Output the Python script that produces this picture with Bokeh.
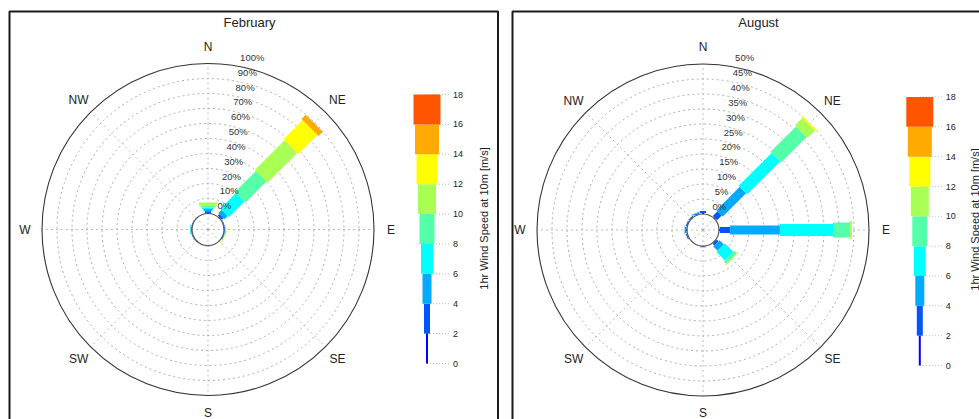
import numpy as np
from bokeh.plotting import figure
from bokeh.models import Range1d, ColumnDataSource
from bokeh.embed import file_html
from bokeh.resources import INLINE
from bokeh.core.properties import value

# ---------------- data ----------------
speed_edges = [0, 2, 4, 6, 8, 10, 12, 14, 16, 18]
speed_colors = ["#0000FF", "#0055FF", "#00AAFF", "#00FFFF", "#55FFAA",
                "#AAFF55", "#FFFF00", "#FFAA00", "#FF5500"]
compass_dirs = [0, 45, 90, 135, 180, 225, 270, 315]
compass_labels = ["N", "NE", "E", "SE", "S", "SW", "W", "NW"]
cbar_label = "1hr Wind Speed at 10m [m/s]"

# February: frequency (%) per direction for each speed class
feb_title = "February"
feb_ring_ticks = [0, 10, 20, 30, 40, 50, 60, 70, 80, 90, 100]
feb_dirs = [0, 45, 67.5, 90, 112.5, 157.5, 180, 202.5, 225, 247.5, 270, 292.5, 315]
feb_0_2 = [0.2, 0.5, 0.2, 0.2, 0.1, 0.1, 0.2, 0.2, 0.2, 0.2, 0.2, 0.2, 0.1]
feb_2_4 = [1.3, 1.5, 0.4, 0.5, 0.4, 0.2, 0.3, 0.3, 0.3, 0.3, 0.5, 0.3, 0.1]
feb_4_6 = [1.5, 3.0, 0.0, 0.2, 0.3, 0.0, 0.0, 0.0, 0.0, 0.2, 0.3, 0.0, 0.0]
feb_6_8 = [1.0, 14.5, 0.0, 0.0, 0.2, 0.0, 0.0, 0.0, 0.0, 0.0, 0.2, 0.0, 0.0]
feb_8_10 = [1.2, 20.0, 0.0, 0.0, 0.1, 0.0, 0.0, 0.0, 0.0, 0.0, 0.0, 0.0, 0.0]
feb_10_12 = [2.2, 28.0, 0.0, 0.0, 0.1, 0.0, 0.0, 0.0, 0.0, 0.0, 0.0, 0.0, 0.0]
feb_12_14 = [0.0, 18.0, 0.0, 0.0, 0.2, 0.0, 0.0, 0.0, 0.0, 0.0, 0.0, 0.0, 0.0]
feb_14_16 = [0.0, 4.0, 0.0, 0.0, 0.0, 0.0, 0.0, 0.0, 0.0, 0.0, 0.0, 0.0, 0.0]
feb_16_18 = [0.0, 0.0, 0.0, 0.0, 0.0, 0.0, 0.0, 0.0, 0.0, 0.0, 0.0, 0.0, 0.0]

# August
aug_title = "August"
aug_ring_ticks = [0, 5, 10, 15, 20, 25, 30, 35, 40, 45, 50]
aug_dirs = [0, 45, 90, 135, 180, 247.5, 270, 292.5, 315, 337.5]
aug_0_2 = [0.3, 0.3, 0.3, 0.2, 0.2, 0.2, 0.2, 0.2, 0.2, 0.2]
aug_2_4 = [0.7, 2.2, 3.4, 0.8, 0.2, 0.3, 0.4, 0.3, 0.3, 0.3]
aug_4_6 = [0.0, 11.0, 16.6, 2.0, 0.0, 0.0, 0.2, 0.0, 0.0, 0.3]
aug_6_8 = [0.0, 15.5, 17.7, 4.0, 0.0, 0.0, 0.0, 0.0, 0.0, 0.0]
aug_8_10 = [0.0, 12.0, 5.7, 1.0, 0.0, 0.0, 0.0, 0.0, 0.0, 0.0]
aug_10_12 = [0.0, 3.5, 0.6, 0.4, 0.0, 0.0, 0.0, 0.0, 0.0, 0.0]
aug_12_14 = [0.0, 0.5, 0.0, 0.0, 0.0, 0.0, 0.0, 0.0, 0.0, 0.0]
aug_14_16 = [0.0, 0.0, 0.0, 0.0, 0.0, 0.0, 0.0, 0.0, 0.0, 0.0]
aug_16_18 = [0.0, 0.0, 0.0, 0.0, 0.0, 0.0, 0.0, 0.0, 0.0, 0.0]

feb_classes = [feb_0_2, feb_2_4, feb_4_6, feb_6_8, feb_8_10,
               feb_10_12, feb_12_14, feb_14_16, feb_16_18]
aug_classes = [aug_0_2, aug_2_4, aug_4_6, aug_6_8, aug_8_10,
               aug_10_12, aug_12_14, aug_14_16, aug_16_18]

# ---------------- layout / style ----------------
W, H = 979, 419
PAGE_H = 419
FONT = value("Liberation Sans")
CLASS_W = [2, 6, 9, 12, 15, 18, 21, 24, 27]
R0, R1 = 16.0, 166.0


def Y(py):
    return PAGE_H - py


p = figure(width=W, height=H, output_backend="svg", toolbar_location=None,
           x_range=Range1d(0, W), y_range=Range1d(0, H),
           min_border=0)
p.axis.visible = False
p.xgrid.visible = False
p.ygrid.visible = False
p.outline_line_color = None
p.background_fill_color = "white"


def panel(box_l, box_r, title, title_x, cx, cy, rmax, ticks, dirs, classes,
          cbx, cb_y0, cb_y18, lab_x, lab_y):
    # frame
    p.quad(left=[box_l], right=[box_r], top=[Y(11)], bottom=[Y(470)],
           fill_color=None, line_color="#1a1a1a", line_width=2)
    p.text(x=[title_x], y=[Y(22)], text=[title], text_font=FONT,
           text_font_size="13px", text_align="center", text_baseline="middle",
           text_color="#222222")
    cyu = Y(cy)

    def rad(v):
        return R0 + v / rmax * (R1 - R0)

    # grid rings
    ring_r = [rad(t) for t in ticks[1:-1]]
    p.circle(x=[cx] * len(ring_r), y=[cyu] * len(ring_r), radius=ring_r,
             fill_color=None, line_color="#999999", line_width=0.8,
             line_dash="2 3")
    # spokes
    th = np.radians(compass_dirs)
    p.segment(x0=[cx] * len(th), y0=[cyu] * len(th),
              x1=cx + R1 * np.sin(th), y1=cyu + R1 * np.cos(th),
              line_color="#aaaaaa", line_width=0.8, line_dash="2 3")
    # bars
    xs, ys, ws, hs, angs, cols = [], [], [], [], [], []
    for j, d in enumerate(dirs):
        cum = 0.0
        t = np.radians(d)
        for i in range(len(classes)):
            v = classes[i][j]
            if v <= 0:
                continue
            ra, rb = rad(cum), rad(cum + v)
            rm = 0.5 * (ra + rb)
            xs.append(cx + rm * np.sin(t))
            ys.append(cyu + rm * np.cos(t))
            ws.append(rb - ra)
            hs.append(CLASS_W[i])
            angs.append(np.pi / 2 - t)
            cols.append(speed_colors[i])
            cum += v
    src = ColumnDataSource(dict(x=xs, y=ys, w=ws, h=hs, a=angs, c=cols))
    p.rect(x="x", y="y", width="w", height="h", angle="a", fill_color="c",
           line_color=None, source=src)
    # outer and inner circles
    p.circle(x=[cx], y=[cyu], radius=R1, fill_color=None,
             line_color="#333333", line_width=1.1)
    p.circle(x=[cx], y=[cyu], radius=R0, fill_color=None,
             line_color="#555555", line_width=1.2)
    # ring labels
    la = np.radians(8.7)
    rr = np.array([rad(t) for t in ticks])
    p.text(x=cx + rr * np.sin(la) + 7, y=cyu + rr * np.cos(la) + 8,
           text=[f"{t}%" for t in ticks], text_font=FONT,
           text_font_size="9.5px", text_align="left", text_baseline="middle",
           text_color="#333333")
    # compass labels
    p.text(x=cx + 183 * np.sin(th), y=cyu + 183 * np.cos(th),
           text=compass_labels, text_font=FONT, text_font_size="12px",
           text_align="center", text_baseline="middle", text_color="#222222")
    # colorbar
    sc = (cb_y0 - cb_y18) / (speed_edges[-1] - speed_edges[0])
    tick_y = [Y(cb_y0 - e * sc) for e in speed_edges]
    p.segment(x0=[cbx] * len(tick_y), y0=tick_y, x1=[cbx + 22] * len(tick_y),
              y1=tick_y, line_color="#aaaaaa", line_width=0.8, line_dash="1 2")
    mids = [Y(cb_y0 - 0.5 * (speed_edges[i] + speed_edges[i + 1]) * sc)
            for i in range(len(speed_colors))]
    hts = [(speed_edges[i + 1] - speed_edges[i]) * sc for i in range(len(speed_colors))]
    p.rect(x=[cbx] * len(mids), y=mids, width=CLASS_W, height=hts,
           fill_color=speed_colors, line_color=None)
    p.text(x=[cbx + 26] * len(tick_y), y=tick_y, text=[str(e) for e in speed_edges],
           text_font=FONT, text_font_size="9px", text_align="left",
           text_baseline="middle", text_color="#222222")
    p.text(x=[lab_x], y=[Y(lab_y)], text=[cbar_label], angle=np.pi / 2,
           text_font=FONT, text_font_size="11px", text_align="center",
           text_baseline="middle", text_color="#222222")


panel(9, 497.5, feb_title, 249, 207.5, 229, 100, feb_ring_ticks, feb_dirs,
      feb_classes, 426.5, 363, 94, 483, 218)
panel(512, 1010, aug_title, 758, 702.5, 229.5, 50, aug_ring_ticks, aug_dirs,
      aug_classes, 919.3, 365, 96.5, 974, 219)

open("out.html", "w").write(file_html(p, INLINE))
